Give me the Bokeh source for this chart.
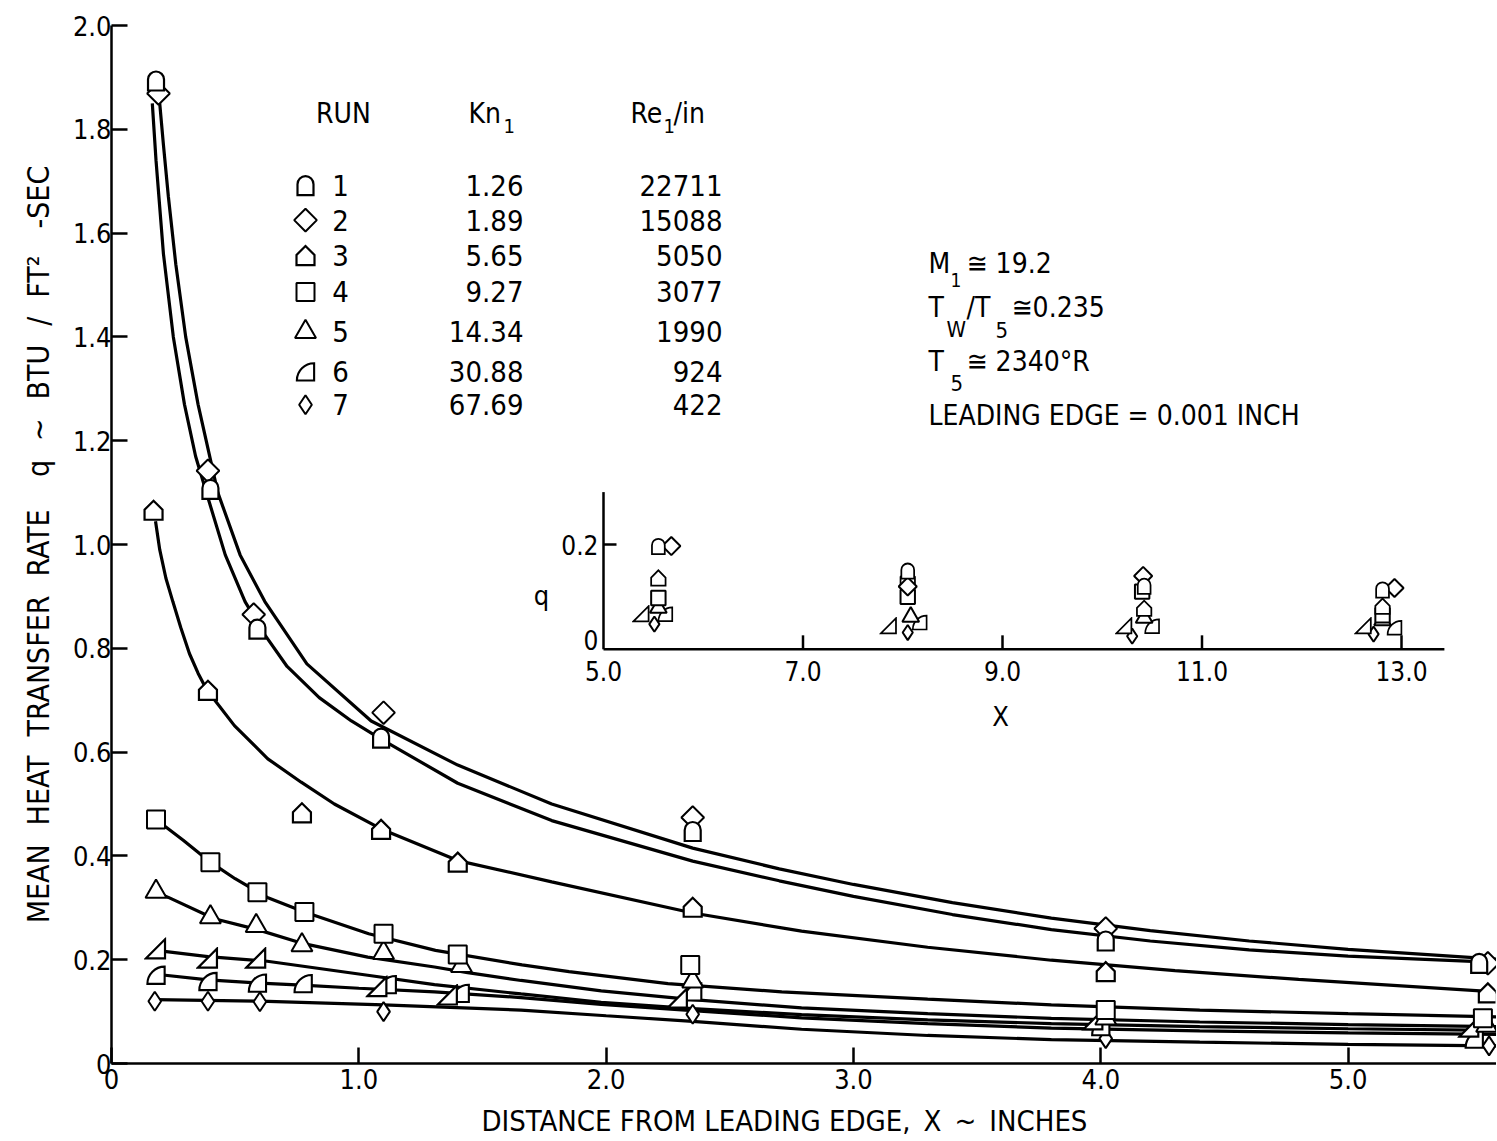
import math
import base64
from bokeh.plotting import figure
from bokeh.models import Range1d, FixedTicker, CustomJSTickFormatter
from bokeh.core.properties import value
from bokeh.embed import file_html
from bokeh.resources import INLINE

# ---------------- data ----------------
# measured points, main plot (x in inches, q in BTU/ft^2-sec)
run1_x = [0.18, 0.40, 0.59, 1.09, 2.35, 4.02, 5.53]
run1_q = [1.894, 1.107, 0.838, 0.628, 0.448, 0.237, 0.194]
run2_x = [0.19, 0.39, 0.575, 1.10, 2.35, 4.02, 5.565]
run2_q = [1.869, 1.142, 0.865, 0.676, 0.474, 0.260, 0.193]
run3_x = [0.17, 0.39, 0.77, 1.09, 1.40, 2.35, 4.02, 5.565]
run3_q = [1.067, 0.720, 0.484, 0.452, 0.389, 0.302, 0.178, 0.137]
run4_x = [0.18, 0.40, 0.59, 0.78, 1.10, 1.40, 2.34, 4.02, 5.545]
run4_q = [0.470, 0.388, 0.330, 0.292, 0.250, 0.210, 0.190, 0.103, 0.087]
run5_x = [0.18, 0.40, 0.585, 0.77, 1.10, 1.415, 2.35, 4.02, 5.56]
run5_q = [0.331, 0.282, 0.265, 0.228, 0.213, 0.188, 0.158, 0.087, 0.073]
run6_x = [0.18, 0.39, 0.59, 0.775, 1.115, 1.41, 2.35, 4.00, 5.51]
run6_q = [0.170, 0.158, 0.155, 0.154, 0.152, 0.135, 0.138, 0.071, 0.047]
run7_x = [0.175, 0.39, 0.60, 1.10, 2.35, 4.02, 5.57]
run7_q = [0.120, 0.120, 0.119, 0.100, 0.095, 0.048, 0.034]
runx_x = [0.18, 0.39, 0.585, 1.075, 1.36, 2.29, 3.97, 5.49]   # unlabelled series
runx_q = [0.220, 0.202, 0.202, 0.147, 0.131, 0.125, 0.083, 0.069]

# faired curves as drawn on the reference
fit1_x = [0.165, 0.18, 0.21, 0.25, 0.295, 0.34, 0.39, 0.46, 0.54, 0.62, 0.71, 0.84, 0.97, 1.09, 1.40, 1.78, 2.35, 2.70, 3.00, 3.40, 3.80, 4.20, 4.60, 5.00, 5.60]
fit1_q = [1.85, 1.74, 1.56, 1.40, 1.27, 1.17, 1.09, 0.98, 0.89, 0.826, 0.765, 0.705, 0.66, 0.625, 0.54, 0.468, 0.39, 0.352, 0.322, 0.287, 0.258, 0.236, 0.219, 0.207, 0.195]
fit2_x = [0.195, 0.21, 0.23, 0.26, 0.30, 0.35, 0.43, 0.52, 0.62, 0.79, 1.05, 1.40, 1.78, 2.35, 2.70, 3.00, 3.40, 3.80, 4.20, 4.60, 5.00, 5.60]
fit2_q = [1.85, 1.77, 1.67, 1.54, 1.40, 1.27, 1.10, 0.98, 0.89, 0.77, 0.66, 0.575, 0.50, 0.415, 0.375, 0.345, 0.31, 0.28, 0.256, 0.236, 0.22, 0.201]
fit3_x = [0.178, 0.195, 0.22, 0.248, 0.28, 0.315, 0.35, 0.385, 0.497, 0.632, 0.767, 0.901, 1.09, 1.40, 1.78, 2.35, 2.79, 3.30, 3.80, 4.30, 4.80, 5.60]
fit3_q = [1.045, 0.99, 0.935, 0.89, 0.84, 0.79, 0.752, 0.72, 0.651, 0.587, 0.542, 0.50, 0.452, 0.391, 0.350, 0.29, 0.255, 0.224, 0.199, 0.179, 0.162, 0.138]
fit4_x = [0.18, 0.29, 0.40, 0.50, 0.63, 0.78, 1.04, 1.31, 1.66, 1.85, 2.25, 2.71, 3.30, 3.80, 4.40, 5.00, 5.60]
fit4_q = [0.47, 0.43, 0.388, 0.356, 0.32, 0.292, 0.25, 0.218, 0.19, 0.177, 0.154, 0.138, 0.124, 0.113, 0.103, 0.096, 0.09]
fit5_x = [0.18, 0.23, 0.416, 0.59, 0.767, 1.036, 1.306, 1.44, 1.656, 1.98, 2.35, 2.79, 3.30, 3.80, 4.40, 5.00, 5.60]
fit5_q = [0.33, 0.32, 0.279, 0.258, 0.232, 0.205, 0.186, 0.175, 0.16, 0.14, 0.123, 0.107, 0.096, 0.087, 0.08, 0.075, 0.071]
fitx_x = [0.18, 0.39, 0.63, 1.036, 1.306, 1.656, 1.98, 2.35, 2.79, 3.30, 3.80, 4.40, 5.00, 5.60]
fitx_q = [0.218, 0.206, 0.197, 0.17, 0.152, 0.134, 0.118, 0.106, 0.094, 0.084, 0.077, 0.071, 0.067, 0.064]
fit6_x = [0.18, 0.39, 0.60, 0.77, 1.00, 1.306, 1.656, 1.98, 2.35, 2.79, 3.30, 3.80, 4.40, 5.00, 5.60]
fit6_q = [0.172, 0.161, 0.155, 0.151, 0.145, 0.138, 0.127, 0.114, 0.102, 0.088, 0.077, 0.068, 0.063, 0.059, 0.056]
fit7_x = [0.175, 0.60, 1.10, 1.656, 2.00, 2.35, 2.79, 3.30, 3.80, 4.40, 5.00, 5.60]
fit7_q = [0.123, 0.12, 0.113, 0.103, 0.092, 0.081, 0.066, 0.054, 0.046, 0.041, 0.037, 0.034]

# inset (downstream stations)
ins1_x = [5.55, 8.05, 10.42, 12.81]
ins1_q = [0.197, 0.150, 0.121, 0.114]
ins2_x = [5.68, 8.05, 10.41, 12.93]
ins2_q = [0.197, 0.120, 0.140, 0.117]
ins3_x = [5.55, 8.05, 10.42, 12.81]
ins3_q = [0.137, 0.138, 0.079, 0.083]
ins4_x = [5.55, 8.05, 10.40, 12.81]
ins4_q = [0.098, 0.100, 0.110, 0.065]
ins5_x = [5.55, 8.08, 10.42, 12.81]
ins5_q = [0.079, 0.062, 0.060, 0.055]
ins6_x = [5.62, 8.17, 10.50, 12.93]
ins6_q = [0.067, 0.051, 0.044, 0.041]
ins7_x = [5.51, 8.05, 10.30, 12.72]
ins7_q = [0.048, 0.032, 0.025, 0.029]
insx_x = [5.38, 7.86, 10.22, 12.62]
insx_q = [0.067, 0.044, 0.044, 0.044]

# legend table
runs = ["1", "2", "3", "4", "5", "6", "7"]
kn_values = ["1.26", "1.89", "5.65", "9.27", "14.34", "30.88", "67.69"]
re_values = ["22711", "15088", "5050", "3077", "1990", "924", "422"]

x_ticks = [0, 1, 2, 3, 4, 5]
y_ticks = [0, 0.2, 0.4, 0.6, 0.8, 1.0, 1.2, 1.4, 1.6, 1.8, 2.0]
inset_x_ticks = [5.0, 7.0, 9.0, 11.0, 13.0]
inset_y_ticks = [0, 0.2]
inset_x_span = (5.0, 13.43)
inset_y_span = (0.0, 0.30)

# ---------------- layout / style ----------------
FONT = "DejaVu Sans Condensed, Liberation Sans Narrow, sans-serif"
EN, EM, THIN = "\u2002", "\u2003", "\u2009"
GAP = EN + THIN
W, H = 1496, 1140
FRAME_L, FRAME_R, FRAME_T, FRAME_B = 111, 1496, 25, 1065   # page pixels
XMAX, YMAX = 5.60, 2.0

# inset placement (page pixels) and scale
IN_X0_PX, IN_XSCALE = 603, 99.75
IN_Y0_PX, IN_YSCALE = 650, 525.0


def X(px):
    return (px - FRAME_L) / (FRAME_R - FRAME_L) * XMAX


def Y(py):
    return (FRAME_B - py) / (FRAME_B - FRAME_T) * YMAX


ix_start = inset_x_span[0] - (IN_X0_PX - FRAME_L) / IN_XSCALE
ix_end = ix_start + (FRAME_R - FRAME_L) / IN_XSCALE
iy_start = inset_y_span[0] - (FRAME_B - IN_Y0_PX) / IN_YSCALE
iy_end = iy_start + (FRAME_B - FRAME_T) / IN_YSCALE


def IX(px):
    return ix_start + (px - FRAME_L) / IN_XSCALE


def IY(py):
    return iy_start + (FRAME_B - py) / IN_YSCALE


p = figure(width=W, height=H, x_range=Range1d(0, XMAX), y_range=Range1d(0, YMAX),
           output_backend="svg", toolbar_location=None,
           min_border_left=FRAME_L, min_border_right=W - FRAME_R,
           min_border_top=FRAME_T, min_border_bottom=H - FRAME_B)
p.extra_x_ranges = {"ix": Range1d(ix_start, ix_end)}
p.extra_y_ranges = {"iy": Range1d(iy_start, iy_end)}
p.xgrid.visible = False
p.ygrid.visible = False
p.outline_line_color = None
p.background_fill_color = "white"
p.border_fill_color = "white"

fmt = CustomJSTickFormatter(code="return tick == 0 ? '0' : tick.toFixed(1);")
p.xaxis.ticker = FixedTicker(ticks=x_ticks)
p.yaxis.ticker = FixedTicker(ticks=y_ticks)
for ax in (p.xaxis[0], p.yaxis[0]):
    ax.formatter = fmt
    ax.axis_line_width = 2.5
    ax.axis_line_color = "black"
    ax.major_tick_line_width = 2.5
    ax.major_tick_in = 16
    ax.major_tick_out = 0
    ax.minor_tick_in = 0
    ax.minor_tick_out = 0
    ax.major_label_text_font = FONT
    ax.major_label_text_font_size = "27px"
    ax.major_label_text_color = "black"
    ax.axis_label_text_font = FONT
    ax.axis_label_text_font_size = "29px"
    ax.axis_label_text_font_style = "normal"
    ax.axis_label_text_color = "black"
p.xaxis.major_label_standoff = 5
p.xaxis.axis_label_standoff = 12
p.yaxis.major_label_standoff = 0
p.yaxis.axis_label_standoff = 14
p.yaxis.axis_label_text_font_size = "30px"
p.xaxis.axis_label = ("DISTANCE FROM LEADING EDGE," + EN + "X" + EN + "~" + EN + "INCHES"
                      + EN * 3)
p.yaxis.axis_label = ("MEAN" + GAP + "HEAT" + GAP + "TRANSFER" + GAP + "RATE" + EM + THIN
                      + "q" + GAP + "~" + GAP + "BTU" + GAP + "/" + GAP + "FT\u00b2"
                      + EM + "-SEC")


# ---------------- marker shapes ----------------
def svg_uri(path):
    svg = ('<svg xmlns="http://www.w3.org/2000/svg" width="24" height="24" viewBox="0 0 24 24">'
           f'<path d="{path}" fill="white" stroke="black" stroke-width="2.2" '
           'stroke-linejoin="miter"/></svg>')
    return "data:image/svg+xml;base64," + base64.b64encode(svg.encode()).decode()


STY = {
    "1": dict(kind="img", path="M4,22 L4,11 A8,8 0 0 1 20,11 L20,22 Z", size=24),
    "2": dict(kind="scatter", marker="square", size=16, angle=math.pi / 4),
    "3": dict(kind="img", path="M3,22 L3,12 L12,3 L21,12 L21,22 Z", size=24),
    "4": dict(kind="scatter", marker="square", size=18),
    "5": dict(kind="scatter", marker="triangle", size=21),
    "6": dict(kind="img", path="M3,21 L21,21 L21,3 A18,18 0 0 0 3,21 Z", size=23),
    "7": dict(kind="scatter", marker="diamond", size=19),
    "x": dict(kind="img", path="M2,21 L21,21 L21,2 Z", size=24),
}


def marker(key, xs, ys, scale=1.0, **rn):
    st = STY[key]
    if st["kind"] == "scatter":
        p.scatter(xs, ys, marker=st["marker"], size=st["size"] * scale,
                  angle=st.get("angle", 0), fill_color="white", line_color="black",
                  line_width=2, **rn)
    else:
        s = st["size"] * scale
        p.image_url(url=[svg_uri(st["path"])] * len(xs), x=xs, y=ys, w=s, h=s,
                    w_units="screen", h_units="screen", anchor="center", **rn)


# curves
for fx, fq in [(fit1_x, fit1_q), (fit2_x, fit2_q), (fit3_x, fit3_q), (fit4_x, fit4_q),
               (fit5_x, fit5_q), (fitx_x, fitx_q), (fit6_x, fit6_q), (fit7_x, fit7_q)]:
    p.line(fx, fq, line_width=3.2, line_color="black")

# main points
for key, xs, ys in [("7", run7_x, run7_q), ("6", run6_x, run6_q), ("x", runx_x, runx_q),
                    ("5", run5_x, run5_q), ("4", run4_x, run4_q), ("3", run3_x, run3_q),
                    ("2", run2_x, run2_q), ("1", run1_x, run1_q)]:
    marker(key, xs, ys)

# ---------------- inset ----------------
rn = dict(x_range_name="ix", y_range_name="iy")
p.segment(x0=[inset_x_span[0], inset_x_span[0]], y0=[inset_y_span[0], inset_y_span[0]],
          x1=[inset_x_span[0], inset_x_span[1]], y1=[inset_y_span[1], inset_y_span[0]],
          line_width=2.5, line_color="black", **rn)
tick_len_y = 14 / IN_YSCALE
tick_len_x = 13 / IN_XSCALE
xt = inset_x_ticks[1:]
p.segment(x0=xt, y0=[0] * len(xt), x1=xt, y1=[tick_len_y] * len(xt),
          line_width=2.5, line_color="black", **rn)
yt = inset_y_ticks[1:]
p.segment(x0=[inset_x_span[0]] * len(yt), y0=yt, x1=[inset_x_span[0] + tick_len_x] * len(yt),
          y1=yt, line_width=2.5, line_color="black", **rn)
p.text(inset_x_ticks, [IY(IN_Y0_PX + 22)] * len(inset_x_ticks),
       text=[f"{t:.1f}" for t in inset_x_ticks], text_font=value(FONT), text_font_size="26px",
       text_align="center", text_baseline="middle", text_color="black", **rn)
p.text([IX(IN_X0_PX - 5)] * len(inset_y_ticks), [t for t in inset_y_ticks],
       text=["0" if t == 0 else f"{t:.1f}" for t in inset_y_ticks], text_font=value(FONT),
       text_font_size="26px", text_align="right", text_baseline="middle", text_color="black",
       y_offset=[-9, 0], **rn)
p.text([IX(1000)], [IY(717)], text=["X"], text_font=value(FONT), text_font_size="27px",
       text_align="center", text_baseline="middle", text_color="black", **rn)
p.text([IX(541)], [IY(596)], text=["q"], text_font=value(FONT), text_font_size="27px",
       text_align="center", text_baseline="middle", text_color="black", **rn)

for key, xs, ys in [("7", ins7_x, ins7_q), ("6", ins6_x, ins6_q), ("x", insx_x, insx_q),
                    ("5", ins5_x, ins5_q), ("4", ins4_x, ins4_q), ("3", ins3_x, ins3_q),
                    ("2", ins2_x, ins2_q), ("1", ins1_x, ins1_q)]:
    marker(key, xs, ys, scale=0.8, **rn)


# ---------------- text blocks ----------------
def txt(px, py, s, size=28, align="left"):
    p.text([X(px)], [Y(py)], text=[s], text_font=value(FONT), text_font_size=f"{size}px",
           text_align=align, text_baseline="middle", text_color="black")


# legend table
txt(343, 113, "RUN", align="center")
txt(468, 113, "Kn")
txt(503, 126, "1", size=20)
txt(630, 113, "Re")
txt(663, 126, "1", size=20)
txt(673, 113, "/in")
row_y = [185, 220, 255, 292, 332, 372, 405]
for i, r in enumerate(runs):
    marker(r, [X(305)], [Y(row_y[i])])
    txt(340, row_y[i], r, size=29, align="center")
    txt(523, row_y[i], kn_values[i], size=29, align="right")
    txt(722, row_y[i], re_values[i], size=29, align="right")

# test conditions
txt(928, 263, "M")
txt(950, 280, "1", size=19)
txt(966, 263, "\u2245 19.2")
txt(928, 308, "T")
txt(946, 330, "W", size=22)
txt(966, 308, "/T")
txt(995, 330, "5", size=22)
txt(1011, 308, "\u22450.235")
txt(928, 362, "T")
txt(950, 383, "5", size=22)
txt(966, 362, "\u2245 2340\u00b0R")
txt(928, 416, "LEADING EDGE = 0.001 INCH")

open("out.html", "w").write(file_html(p, INLINE))
